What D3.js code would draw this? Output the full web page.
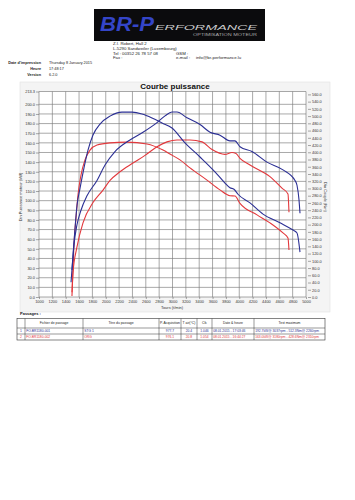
<!DOCTYPE html>
<html><head><meta charset="utf-8">
<script src="https://cdn.jsdelivr.net/npm/d3@7"></script>
<style>
body{margin:0;background:#fff}
svg{display:block;font-family:Arial,"Liberation Sans",sans-serif}
</style>
</head><body>
<svg id="c" width="355" height="500"></svg>
<script>
// ---------- data ----------
const rpmTicks = d3.range(1000, 5001, 200);
const kwTicks = d3.range(0, 201, 10).concat([213.3]);
const nmTicks = d3.range(0, 561, 20);

// Run 1 (blue) power, kW
const run1PowerRpm = [1494,1524,1569,1629,1719,1869,1989,2138,2363,2558,2768,2888,2992,3067,3217,3412,3562,3711,3861,3936,4011,4191,4415,4655,4835,4865,4895,4910];
const run1PowerKw  = [28,54,75,90,105,121,137,151,163,171,181,188,192,192,186,179,171,168,162,162,156,151,140,132,121,116,101,87];
// Run 1 (blue) torque, Nm
const run1TorqueRpm = [1480,1510,1540,1570,1615,1674,1734,1809,1914,2064,2243,2393,2543,2693,2843,2992,3187,3412,3636,3786,3861,3921,3981,4161,4356,4610,4805,4865,4910];
const run1TorqueNm  = [41,116,191,254,301,357,406,448,478,500,511,511,506,495,481,467,426,387,346,315,302,298,284,260,229,205,185,177,124];
// Run 2 (red) power, kW
const run2PowerRpm = [1494,1509,1569,1659,1809,1959,2064,2213,2408,2588,2768,2917,3067,3262,3442,3592,3786,3891,3951,4011,4161,4460,4640,4730,4745];
const run2PowerKw  = [5,25,52,77,98,111,121,130,139,147,156,161,163,163,161,153,148,150,149,144,137,125,113,107,88];
// Run 2 (red) torque, Nm
const run2TorqueRpm = [1494,1509,1524,1554,1584,1629,1689,1764,1869,2064,2318,2618,2858,2962,3112,3262,3517,3711,3861,3936,4011,4266,4460,4655,4730,4745];
const run2TorqueNm  = [3,75,144,218,282,337,379,406,420,426,428,423,406,395,379,357,323,296,280,279,259,227,205,177,163,130];

const tableHeaders = ["", "Fichier de passage", "Titre du passage", "P. Acquisition", "T air(°C)", "Cfc", "Date & heure", "Test maximum"];
const tableRow1 = ["1", "FO-BR1180-001", "STG 1", "977.7", "20.4", "1.046", "08.01.2015 - 17:03:46", "192.7kW@ 3037rpm - 512.3Nm@ 2260rpm"];
const tableRow2 = ["2", "FO-BR1180-002", "ORG", "976.1", "20.8", "1.054", "08.01.2015 - 16:44:27", "163.0kW@ 3180rpm - 428.6Nm@ 2310rpm"];

const BLUE = "#2b2f94", RED = "#e2383c";

// ---------- drawing ----------
const svg = d3.select("#c");

// logo
svg.append("rect").attr("x",94).attr("y",9).attr("width",171).attr("height",32).attr("fill","#0b0b0d");
svg.append("text").attr("x",100).attr("y",31).attr("font-size",20).attr("font-weight","bold")
  .attr("font-style","italic").attr("fill","#3445c8").attr("textLength",54).attr("lengthAdjust","spacingAndGlyphs").text("BR-P");
svg.append("text").attr("x",155).attr("y",29.5).attr("font-size",8).attr("font-style","italic")
  .attr("fill","#c9c9c9").attr("textLength",102).attr("lengthAdjust","spacingAndGlyphs").text("ERFORMANCE");
svg.append("text").attr("x",193).attr("y",35.5).attr("font-size",3.6)
  .attr("fill","#a8a8a8").attr("textLength",64).attr("lengthAdjust","spacingAndGlyphs").text("OPTIMISATION MOTEUR");

// address
const addr = svg.append("g").attr("font-size",4.3).attr("fill","#222");
addr.append("text").attr("x",113).attr("y",45).text("Z.I. Robert, Hall 2");
addr.append("text").attr("x",113).attr("y",50).text("L-5290 Sandweiler (Luxembourg)");
addr.append("text").attr("x",113).attr("y",54.5).text("Tel :    00352 26 78 57 08");
addr.append("text").attr("x",176).attr("y",54.5).text("GSM :");
addr.append("text").attr("x",113).attr("y",59).text("Fax :");
addr.append("text").attr("x",176).attr("y",59).text("e-mail :");
addr.append("text").attr("x",196).attr("y",59).text("info@br-performance.lu");

// print info
const info = svg.append("g").attr("font-size",3.8).attr("fill","#222");
[["Date d'impression","Thursday 8 January 2015",64],["Heure","17:48:17",70],["Version","6.2.0",76]].forEach(r=>{
  info.append("text").attr("x",41).attr("y",r[2]).attr("text-anchor","end").attr("font-weight","bold").text(r[0]);
  info.append("text").attr("x",49).attr("y",r[2]).text(r[1]);
});

// panel
svg.append("rect").attr("x",20).attr("y",82).attr("width",310).attr("height",230)
  .attr("fill","#f4f4f4").attr("stroke","#e2e2e2").attr("stroke-width",0.6);

const x = d3.scaleLinear().domain([1000,5000]).range([39,306]);
const yL = d3.scaleLinear().domain([0,213.3]).range([297,91.5]);
const yR = d3.scaleLinear().domain([0,568]).range([297,91.5]);

svg.append("rect").attr("x",x(1000)).attr("y",yL(213.3)).attr("width",x(5000)-x(1000)).attr("height",yL(0)-yL(213.3)).attr("fill","#fff");

// grid
const grid = svg.append("g").attr("stroke","#7a7a7a").attr("stroke-width",0.65);
grid.selectAll("line.v").data(rpmTicks).join("line").attr("class","v")
  .attr("x1",d=>x(d)).attr("x2",d=>x(d)).attr("y1",yL(0)).attr("y2",yL(213.3));
grid.selectAll("line.h").data(kwTicks).join("line").attr("class","h")
  .attr("x1",x(1000)).attr("x2",x(5000)).attr("y1",d=>yL(d)).attr("y2",d=>yL(d));

function styleAxis(g){
  g.attr("font-size",3.9).attr("font-family","Arial, 'Liberation Sans', sans-serif");
  g.select(".domain").remove();
  g.selectAll(".tick line").attr("stroke","#555").attr("stroke-width",0.5);
  g.selectAll(".tick text").attr("fill","#333");
}
svg.append("g").attr("transform",`translate(${x(1000)},0)`)
  .call(d3.axisLeft(yL).tickValues(kwTicks).tickFormat(d3.format(".1f")).tickSize(3).tickPadding(1)).call(styleAxis);
svg.append("g").attr("transform",`translate(${x(5000)+2},0)`)
  .call(d3.axisRight(yR).tickValues(nmTicks).tickFormat(d3.format(".1f")).tickSize(3).tickPadding(1)).call(styleAxis);
svg.append("g").attr("transform",`translate(0,${yL(0)})`)
  .call(d3.axisBottom(x).tickValues(rpmTicks).tickFormat(d3.format("d")).tickSize(2).tickPadding(1.5)).call(styleAxis);

// axis titles
svg.append("text").attr("x",172).attr("y",308.5).attr("font-size",4).attr("text-anchor","middle").attr("fill","#333").text("Tours (t/min)");
svg.append("text").attr("transform","translate(22,197) rotate(-90)").attr("font-size",4).attr("text-anchor","middle").attr("fill","#333").text("Din Puissance moteur (kW)");
svg.append("text").attr("transform","translate(324,197) rotate(90)").attr("font-size",4).attr("text-anchor","middle").attr("fill","#333").text("Din Couple (Nm)");

// title
svg.append("text").attr("x",175).attr("y",89).attr("text-anchor","middle").attr("font-size",8).attr("font-weight","bold").attr("fill","#111").text("Courbe puissance");

// curves
function curve(rpms, vals, y, color){
  const pts = rpms.map((r,i)=>[r, vals[i]]);
  const line = d3.line().x(d=>x(d[0])).y(d=>y(d[1])).curve(d3.curveMonotoneX);
  svg.append("path").attr("d", line(pts)).attr("fill","none").attr("stroke",color)
    .attr("stroke-width",1.1).attr("stroke-linejoin","round");
}
curve(run2PowerRpm, run2PowerKw, yL, RED);
curve(run2TorqueRpm, run2TorqueNm, yR, RED);
curve(run1PowerRpm, run1PowerKw, yL, BLUE);
curve(run1TorqueRpm, run1TorqueNm, yR, BLUE);

// table
svg.append("text").attr("x",20).attr("y",315).attr("font-size",4).attr("font-weight","bold").attr("fill","#111").text("Passages :");
const colX = [17,25,83,159,181,197,212,254,325];
const rowY = [318.5,328,334,340];
const tbl = svg.append("g");
tbl.append("rect").attr("x",colX[0]).attr("y",rowY[0]).attr("width",colX[8]-colX[0]).attr("height",rowY[3]-rowY[0])
  .attr("fill","#fff").attr("stroke","#333").attr("stroke-width",0.6);
colX.slice(1,-1).forEach(cx=>tbl.append("line").attr("x1",cx).attr("x2",cx).attr("y1",rowY[0]).attr("y2",rowY[3]).attr("stroke","#333").attr("stroke-width",0.5));
rowY.slice(1,-1).forEach(ry=>tbl.append("line").attr("x1",colX[0]).attr("x2",colX[8]).attr("y1",ry).attr("y2",ry).attr("stroke","#333").attr("stroke-width",0.5));
tableHeaders.forEach((h,i)=>{
  tbl.append("text").attr("x",(colX[i]+colX[i+1])/2).attr("y",323.5).attr("text-anchor","middle")
    .attr("font-size",3.4).attr("fill","#222").text(h);
});
const align = ["middle","start","start","middle","middle","middle","start","start"];
[[tableRow1,BLUE,332.4],[tableRow2,RED,338.4]].forEach(([row,col,yy])=>{
  row.forEach((v,i)=>{
    const xx = align[i]==="start" ? colX[i]+1.2 : (colX[i]+colX[i+1])/2;
    tbl.append("text").attr("x",xx).attr("y",yy).attr("text-anchor",align[i])
      .attr("font-size",3.3).attr("fill",col).text(v);
  });
});
</script>
</body></html>
